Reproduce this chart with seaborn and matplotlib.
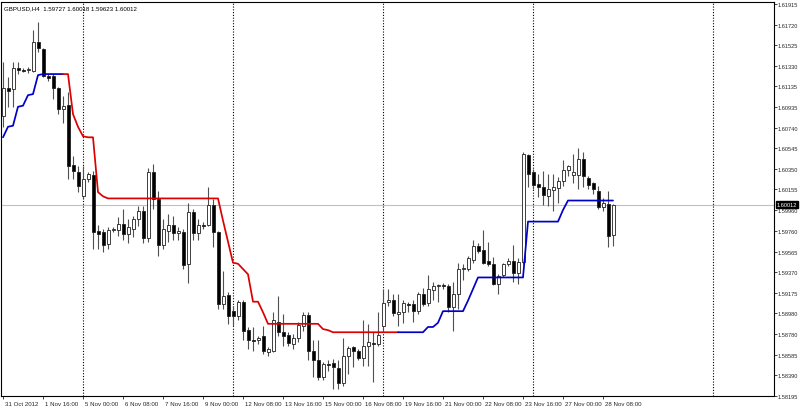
import numpy as np
import pandas as pd
import seaborn as sns
import matplotlib.pyplot as plt
import matplotlib.transforms as mtransforms

# GBPUSD H4 candles, 31 Oct 2012 08:00 .. 28 Nov 2012 16:00
opens = [1.6085, 1.6112, 1.6111, 1.6131, 1.6129, 1.6129, 1.6128, 1.6155, 1.6149, 1.6123,
         1.6123, 1.6112, 1.6092, 1.6096, 1.6039, 1.6032, 1.6009, 1.6025, 1.6029, 1.5976,
         1.5975, 1.5964, 1.5977, 1.5977, 1.5983, 1.5973, 1.5978, 1.5987, 1.5995, 1.5969,
         1.6032, 1.6006, 1.5963, 1.5976, 1.5982, 1.5974, 1.5975, 1.5945, 1.5994, 1.5974,
         1.5982, 1.5982, 1.6001, 1.5975, 1.5907, 1.5915, 1.5900, 1.5895, 1.5909, 1.5882,
         1.5873, 1.5873, 1.5876, 1.5861, 1.5862, 1.5890, 1.5880, 1.5877, 1.5869, 1.5875,
         1.5886, 1.5896, 1.5862, 1.5854, 1.5838, 1.5850, 1.5851, 1.5846, 1.5832, 1.5857,
         1.5866, 1.5862, 1.5856, 1.5867, 1.5870, 1.5869, 1.5886, 1.5909, 1.5911, 1.5897,
         1.5899, 1.5907, 1.5907, 1.5900, 1.5916, 1.5908, 1.5920, 1.5924, 1.5925, 1.5924,
         1.5904, 1.5916, 1.5940, 1.5940, 1.5949, 1.5962, 1.5958, 1.5948, 1.5945, 1.5926,
         1.5934, 1.5945, 1.5948, 1.5936, 1.5947, 1.6048, 1.6032, 1.6021, 1.6018, 1.6009,
         1.6015, 1.6017, 1.6024, 1.6034, 1.6029, 1.6029, 1.6044, 1.6026, 1.6022, 1.6014,
         1.5999, 1.6002, 1.59727]
highs = [1.6136, 1.6122, 1.6136, 1.6136, 1.6131, 1.6132, 1.6167, 1.6174, 1.6150, 1.6125,
         1.6125, 1.6113, 1.6104, 1.6108, 1.6047, 1.6038, 1.6038, 1.6032, 1.6033, 1.5982,
         1.5978, 1.5980, 1.5980, 1.5989, 1.5997, 1.5987, 1.5990, 1.6000, 1.6000, 1.6036,
         1.6040, 1.6014, 1.5987, 1.5992, 1.5990, 1.5980, 1.5978, 1.6003, 1.5997, 1.5987,
         1.5985, 1.6018, 1.6006, 1.5976, 1.5938, 1.5918, 1.5905, 1.5911, 1.5911, 1.5885,
         1.5885, 1.5876, 1.5886, 1.5866, 1.5899, 1.5914, 1.5897, 1.5880, 1.5878, 1.5890,
         1.5899, 1.5899, 1.5873, 1.5873, 1.5852, 1.5854, 1.5855, 1.5854, 1.5875, 1.5867,
         1.5867, 1.5864, 1.5892, 1.5888, 1.5880, 1.5899, 1.5921, 1.5921, 1.5916, 1.5916,
         1.5911, 1.5909, 1.5911, 1.5918, 1.5922, 1.5934, 1.5928, 1.5926, 1.5927, 1.5926,
         1.5928, 1.5946, 1.5945, 1.5952, 1.5968, 1.5965, 1.5977, 1.5966, 1.5951, 1.5935,
         1.5946, 1.5950, 1.5963, 1.5950, 1.6051, 1.6049, 1.6035, 1.6030, 1.6033, 1.6030,
         1.6030, 1.6027, 1.6043, 1.6039, 1.6049, 1.6055, 1.6051, 1.6028, 1.6023, 1.6019,
         1.6007, 1.6014, 1.60018]
lows = [1.6075, 1.6094, 1.6094, 1.6125, 1.6127, 1.6126, 1.6127, 1.6146, 1.6122, 1.6118,
        1.6101, 1.6087, 1.6079, 1.6025, 1.6025, 1.6013, 1.6006, 1.6023, 1.5959, 1.5959,
        1.5956, 1.5959, 1.5975, 1.5971, 1.5968, 1.5965, 1.5970, 1.5981, 1.5965, 1.5966,
        1.5997, 1.5952, 1.5959, 1.5966, 1.5968, 1.5968, 1.5940, 1.5927, 1.5968, 1.5968,
        1.5978, 1.5981, 1.5961, 1.5902, 1.5902, 1.5888, 1.5886, 1.5892, 1.5873, 1.5864,
        1.5862, 1.5869, 1.5859, 1.5857, 1.5861, 1.5876, 1.5867, 1.5867, 1.5864, 1.5871,
        1.5881, 1.5854, 1.5838, 1.5835, 1.5835, 1.5843, 1.5826, 1.5826, 1.5829, 1.5840,
        1.5847, 1.5854, 1.5848, 1.5848, 1.5833, 1.5867, 1.5881, 1.5905, 1.5895, 1.5886,
        1.5889, 1.5899, 1.5890, 1.5897, 1.5905, 1.5905, 1.5911, 1.5909, 1.5921, 1.5899,
        1.5881, 1.5902, 1.5930, 1.5938, 1.5946, 1.5955, 1.5945, 1.5943, 1.5925, 1.5916,
        1.5932, 1.5943, 1.5928, 1.5926, 1.5945, 1.6018, 1.6016, 1.6008, 1.6001, 1.6000,
        1.5995, 1.6003, 1.6019, 1.6028, 1.6022, 1.6016, 1.6018, 1.6016, 1.6011, 1.5997,
        1.5995, 1.5961, 1.59623]
closes = [1.6112, 1.6109, 1.6131, 1.6129, 1.6128, 1.6130, 1.6155, 1.6150, 1.6123, 1.6121,
          1.6112, 1.6092, 1.6095, 1.6038, 1.6033, 1.6019, 1.6025, 1.6030, 1.5975, 1.5973,
          1.5963, 1.5977, 1.5978, 1.5983, 1.5973, 1.5980, 1.5987, 1.5995, 1.5969, 1.6032,
          1.6006, 1.5963, 1.5978, 1.5982, 1.5974, 1.5976, 1.5944, 1.5994, 1.5974, 1.5982,
          1.5981, 1.6001, 1.5975, 1.5907, 1.5914, 1.5895, 1.5895, 1.5909, 1.5881, 1.5873,
          1.5872, 1.5875, 1.5862, 1.5864, 1.5892, 1.5880, 1.5876, 1.5870, 1.5875, 1.5887,
          1.5896, 1.5862, 1.5854, 1.5838, 1.5850, 1.5849, 1.5847, 1.5832, 1.5857, 1.5865,
          1.5862, 1.5856, 1.5867, 1.5871, 1.5869, 1.5877, 1.5908, 1.5911, 1.5898, 1.5899,
          1.5908, 1.5906, 1.5900, 1.5916, 1.5907, 1.5921, 1.5924, 1.5925, 1.5924, 1.5904,
          1.5916, 1.5940, 1.5941, 1.5950, 1.5962, 1.5957, 1.5946, 1.5945, 1.5926, 1.5933,
          1.5945, 1.5948, 1.5936, 1.5947, 1.6049, 1.6030, 1.6020, 1.6018, 1.6010, 1.6016,
          1.6018, 1.6024, 1.6034, 1.6038, 1.6032, 1.6044, 1.6028, 1.6020, 1.6016, 1.5999,
          1.6003, 1.5971, 1.60012]

# trailing stop indicator (red while downtrend, blue otherwise)
stop = ([1.6065, 1.6075, 1.6076, 1.6094, 1.6095, 1.6105, 1.6106, 1.6124, 1.6125, 1.6125,
         1.6125, 1.6125, 1.6125, 1.6125, 1.6087, 1.6075, 1.6066, 1.6065, 1.6065, 1.6013,
         1.6009] + [1.6007] * 23 +
        [1.5986, 1.5966, 1.5946, 1.5945, 1.5940, 1.5935, 1.5909, 1.5909, 1.5899] +
        [1.5888] * 11 + [1.5883, 1.5882] + [1.5880] * 19 + [1.5885, 1.5885, 1.5889] +
        [1.5900] * 5 + [1.5910, 1.5921] + [1.5932] * 10 + [1.5985] * 7 + [1.5996] +
        [1.6005] * 10)
red_start, red_end = 12, 79

separators = [16, 46, 76, 106, 142]
tick_bars = list(range(0, 121, 8))
tick_labels = ['31 Oct 2012', '1 Nov 16:00', '5 Nov 00:00', '6 Nov 08:00', '7 Nov 16:00',
               '9 Nov 00:00', '12 Nov 08:00', '13 Nov 16:00', '15 Nov 00:00', '16 Nov 08:00',
               '19 Nov 16:00', '21 Nov 00:00', '22 Nov 08:00', '23 Nov 16:00', '27 Nov 00:00',
               '28 Nov 08:00']
price_ticks = [1.61915, 1.61720, 1.61525, 1.61330, 1.61135, 1.60935, 1.60740, 1.60545,
               1.60350, 1.60155, 1.59960, 1.59760, 1.59565, 1.59370, 1.59175, 1.58980,
               1.58780, 1.58585, 1.58390, 1.58195]
last_price = 1.60012

df = pd.DataFrame({'o': opens, 'h': highs, 'l': lows, 'c': closes, 'stop': stop})
df['bar'] = np.arange(len(df))
df['up'] = df['c'] >= df['o']

sns.set_style('white')
plt.rcParams['font.family'] = ['Liberation Sans', 'DejaVu Sans']

fig = plt.figure(figsize=(8, 4.1), dpi=100)
ax = fig.add_axes([1 / 800, 13 / 410, 773 / 800, 394 / 410])

ax.axhline(last_price, color='#c0c0c0', lw=0.8, zorder=0.5)
for s in separators:
    ax.axvline(s, color='black', ls=(0, (1, 1.5)), lw=0.8, zorder=0.6)

ax.vlines(df['bar'], df['l'], df['h'], color='#505050', lw=0.8, zorder=1)
ax.bar(df['bar'], (df['c'] - df['o']).abs(), bottom=df[['o', 'c']].min(axis=1),
       width=0.6, color=np.where(df['up'], 'white', 'black'),
       edgecolor='#202020', linewidth=0.6, zorder=2)

blue1 = df.iloc[:red_start + 1]
red = df.iloc[red_start:red_end + 1]
blue2 = df.iloc[red_end:]
for part, col in [(blue1, '#0000c8'), (red, '#dc0000'), (blue2, '#0000c8')]:
    sns.lineplot(data=part, x='bar', y='stop', color=col, lw=1.25, ax=ax,
                 estimator=None, sort=False, zorder=3)

ax.set_xlim(-0.4, 154.2)
ax.set_ylim(1.58195, 1.61934)
ax.set_xlabel('')
ax.set_ylabel('')

ax.yaxis.tick_right()
ax.set_yticks(price_ticks)
ax.set_yticklabels([f'{p:.5f}' for p in price_ticks])
ax.tick_params(axis='y', direction='out', length=2.0, width=0.6, pad=0.8,
               labelsize=4.1, right=True, left=False)

ax.set_xticks(tick_bars)
ax.set_xticklabels(tick_labels, ha='left')
ax.tick_params(axis='x', direction='out', length=2.5, width=0.6, pad=1.0,
               labelsize=4.4, bottom=True)
shift = mtransforms.ScaledTranslation(2 / 100, 0, fig.dpi_scale_trans)
for lab in ax.get_xticklabels():
    lab.set_transform(lab.get_transform() + shift)

for sp in ax.spines.values():
    sp.set_color('black')
    sp.set_linewidth(0.8)

ax.text(0.004, 0.985, 'GBPUSD,H4  1.59727 1.60018 1.59623 1.60012',
        transform=ax.transAxes, ha='left', va='center', fontsize=4.4, color='black')

trans = mtransforms.blended_transform_factory(ax.transAxes, ax.transData)
ax.text(1.0 + 3 / 773, last_price, f'{last_price:.5f}', transform=trans,
        ha='left', va='center', fontsize=4.1, color='white', zorder=10, clip_on=False,
        bbox=dict(boxstyle='square,pad=0.12', fc='black', ec='black'))

fig.savefig('out.png', dpi=100)
